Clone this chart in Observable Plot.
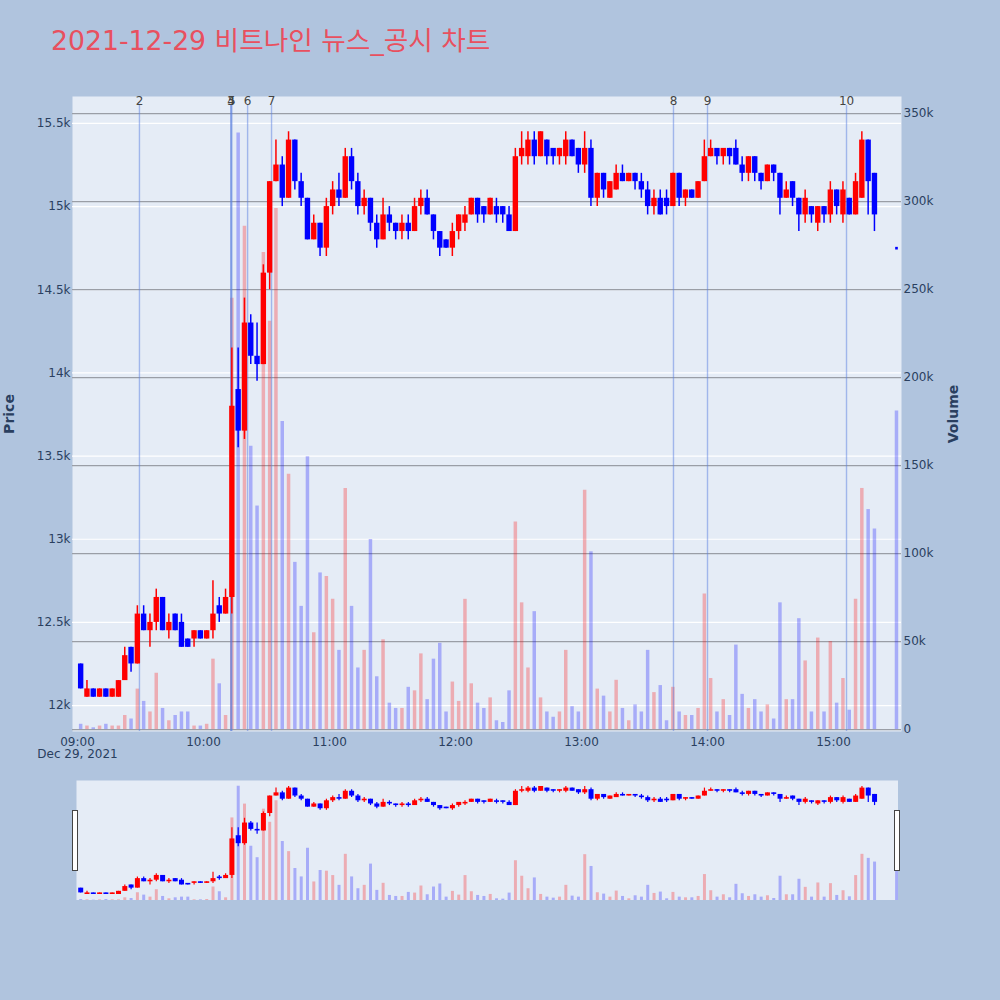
<!DOCTYPE html>
<html>
<head>
<meta charset="utf-8">
<script src="https://cdn.jsdelivr.net/npm/d3@7"></script>
<script src="https://cdn.jsdelivr.net/npm/@observablehq/plot@0.6"></script>
<style>
  body { margin: 0; background: #b0c4de; }
  #chart { position: relative; width: 1000px; height: 1000px; background: #b0c4de; overflow: hidden;
           font-family: "DejaVu Sans", Verdana, sans-serif; }
  #chart .layer { position: absolute; left: 0; top: 0; }
  #slider { position: absolute; left: 76px; top: 780px; width: 822px; height: 120px; }
  #slider .layer { position: absolute; left: 0; top: 0; }
  .handle { position: absolute; width: 4px; height: 59px; top: 810px; background: #fff; border: 1px solid #444; }
</style>
</head>
<body>
<div id="chart"><div id="slider"></div></div>
<script>
// 3분 단위 봉 (시작 시각)
const barTimes = [
  "09:00","09:03","09:06","09:09","09:12","09:15","09:18","09:21","09:24","09:27",
  "09:30","09:33","09:36","09:39","09:42","09:45","09:48","09:51","09:54","09:57",
  "10:00","10:03","10:06","10:09","10:12","10:15","10:18","10:21","10:24","10:27",
  "10:30","10:33","10:36","10:39","10:42","10:45","10:48","10:51","10:54","10:57",
  "11:00","11:03","11:06","11:09","11:12","11:15","11:18","11:21","11:24","11:27",
  "11:30","11:33","11:36","11:39","11:42","11:45","11:48","11:51","11:54","11:57",
  "12:00","12:03","12:06","12:09","12:12","12:15","12:18","12:21","12:24","12:27",
  "12:30","12:33","12:36","12:39","12:42","12:45","12:48","12:51","12:54","12:57",
  "13:00","13:03","13:06","13:09","13:12","13:15","13:18","13:21","13:24","13:27",
  "13:30","13:33","13:36","13:39","13:42","13:45","13:48","13:51","13:54","13:57",
  "14:00","14:03","14:06","14:09","14:12","14:15","14:18","14:21","14:24","14:27",
  "14:30","14:33","14:36","14:39","14:42","14:45","14:48","14:51","14:54","14:57",
  "15:00","15:03","15:06","15:09","15:12","15:15","15:18"
];
const opens = [
  12250,12050,12100,12050,12100,12050,12050,12150,12350,12250,
  12550,12450,12500,12650,12450,12550,12500,12400,12400,12450,
  12400,12450,12600,12550,12650,13900,13650,14300,14100,14050,
  14600,15150,15250,15050,15400,15150,15050,14800,14900,14750,
  15000,15100,15050,15300,15150,15000,15050,14900,14800,14950,
  14900,14850,14900,14850,15000,15050,14950,14850,14800,14750,
  14850,14900,14950,15050,15000,14950,15000,15000,14950,14850,
  15300,15300,15400,15300,15400,15350,15300,15300,15400,15350,
  15250,15350,15050,15200,15050,15100,15200,15150,15200,15150,
  15100,15000,15050,15050,15000,15200,15050,15100,15050,15150,
  15300,15350,15300,15350,15350,15250,15200,15300,15200,15150,
  15250,15200,15050,15150,15050,14950,15000,14900,15000,14950,
  15100,14950,15050,14950,15050,15400,15200
];
const closes = [
  12100,12100,12050,12100,12050,12100,12150,12300,12250,12550,
  12450,12500,12650,12450,12500,12450,12350,12350,12450,12400,
  12450,12550,12550,12650,13800,13650,14300,14100,14050,14600,
  15150,15250,15050,15400,15150,15050,14800,14900,14750,15000,
  15100,15050,15300,15150,15000,15050,14900,14800,14950,14900,
  14850,14900,14850,15000,15050,14950,14850,14750,14750,14850,
  14950,14950,15050,14950,14950,15050,14950,14950,14850,15300,
  15350,15400,15300,15450,15300,15300,15350,15400,15300,15250,
  15350,15050,15200,15100,15150,15200,15150,15200,15150,15100,
  15000,15050,14950,15000,15200,15050,15100,15050,15150,15300,
  15350,15300,15350,15300,15250,15200,15300,15200,15150,15250,
  15200,15050,15100,15050,14950,15050,14950,15000,14950,15100,
  15000,15100,14950,15150,15400,15150,14950
];
const highs = [
  12250,12150,12100,12100,12100,12100,12150,12350,12350,12600,
  12600,12550,12700,12650,12550,12550,12550,12400,12450,12450,
  12450,12750,12650,12700,14150,14150,14450,14350,14300,14650,
  15150,15400,15300,15450,15400,15200,15050,14950,14900,15050,
  15150,15200,15350,15350,15200,15100,15050,14950,15050,15000,
  14900,14950,14950,15050,15100,15100,14950,14850,14800,14900,
  14950,15000,15050,15050,15000,15050,15050,15000,15000,15350,
  15450,15450,15450,15450,15400,15350,15350,15450,15400,15350,
  15450,15400,15200,15200,15150,15250,15250,15200,15200,15200,
  15150,15100,15100,15100,15200,15200,15100,15100,15150,15400,
  15400,15350,15350,15350,15400,15300,15300,15300,15200,15250,
  15250,15200,15150,15150,15050,15100,15000,15000,15000,15150,
  15100,15150,15050,15200,15450,15400,15200
];
const lows = [
  12100,12050,12050,12050,12050,12050,12050,12150,12200,12250,
  12450,12350,12450,12450,12400,12450,12350,12350,12350,12400,
  12400,12400,12500,12550,12550,13550,13600,14050,13950,14050,
  14500,15150,15000,15050,15100,15000,14800,14800,14700,14700,
  14950,15000,15050,15100,14950,14950,14850,14750,14800,14850,
  14800,14800,14800,14850,14950,14950,14800,14700,14750,14700,
  14800,14850,14950,14900,14900,14950,14900,14900,14850,14850,
  15250,15250,15250,15300,15250,15250,15250,15250,15300,15200,
  15200,15000,15000,15050,15050,15100,15150,15150,15100,15050,
  14950,14950,14950,14950,15000,15000,15000,15050,15050,15150,
  15300,15250,15250,15250,15250,15150,15150,15150,15100,15150,
  15150,14950,15050,15000,14850,14900,14900,14850,14900,14900,
  14950,14900,14950,14950,15050,14950,14850
];
const volumes = [
  3000,2000,1000,2000,3000,2000,2000,8000,6000,23000,
  16000,10000,32000,12000,5000,8000,10000,10000,2000,2000,
  3000,40000,26000,8000,245000,339000,286000,161000,127000,271000,
  232000,296000,175000,145000,95000,70000,155000,55000,89000,87000,
  74000,45000,137000,70000,35000,45000,108000,30000,51000,15000,
  12000,12000,24000,22000,43000,17000,40000,49000,10000,27000,
  16000,74000,26000,15000,12000,18000,5000,4000,22000,118000,
  72000,35000,67000,18000,10000,7000,10000,45000,13000,10000,
  136000,101000,23000,19000,10000,28000,12000,5000,14000,10000,
  45000,21000,25000,5000,24000,10000,8000,8000,12000,77000,
  29000,10000,17000,8000,48000,20000,12000,17000,10000,14000,
  6000,72000,17000,17000,63000,39000,10000,52000,10000,50000,
  15000,29000,11000,74000,137000,125000,114000
];
// 종가 단일가 (15:30)
const closeTime = "15:30";
const closePrice = 14750;
const closeVolume = 181000;

// 뉴스/공시 번호와 시각
const newsLabels = ["2", "3", "4", "5", "6", "7", "8", "9", "10"];
const newsTimes = ["09:29:30", "10:13:00", "10:13:10", "10:13:30", "10:21:00", "10:32:24", "13:43:48", "14:00:00", "15:06:12"];

const priceTicks = [12000, 12500, 13000, 13500, 14000, 14500, 15000, 15500];
const volumeTicks = [0, 50000, 100000, 150000, 200000, 250000, 300000, 350000];
const hourTicks = ["09:00", "10:00", "11:00", "12:00", "13:00", "14:00", "15:00"];

const titleText = "2021-12-29 비트나인 뉴스_공시 차트";

const day = s => new Date(`2021-12-29T${s.length === 5 ? s + ":00" : s}Z`);
const RED = "#ff0000", BLUE = "#0000ff";

let bars = barTimes.map((s, i) => ({
  t: new Date(+day(s) + 90e3), o: opens[i], h: highs[i], l: lows[i], c: closes[i], v: volumes[i]
}));
bars.push({t: day(closeTime), o: closePrice, h: closePrice, l: closePrice, c: closePrice, v: closeVolume});
bars.forEach(d => d.col = d.c > d.o ? RED : BLUE);
const dojis = bars.filter(d => d.c === d.o);
const news = newsTimes.map((s, i) => ({t: day(s), label: newsLabels[i]}));
const hours = hourTicks.map(day);

const font = "'DejaVu Sans', Verdana, sans-serif";
const common = {
  width: 1000, height: 770,
  marginTop: 96, marginBottom: 39, marginLeft: 72, marginRight: 99,
  style: {background: "transparent", fontFamily: font, fontSize: "12px", color: "#2a3f5f", overflow: "visible"},
  color: {type: "identity"}
};
const xDomain = [day("08:57:37"), day("15:32:23")];
const priceDomain = [11844, 15662];

// 바닥: 배경, 가격 격자, 축
let base = Plot.plot({
  ...common,
  x: {type: "utc", domain: xDomain, label: null},
  y: {domain: priceDomain, label: null},
  marks: [
    Plot.frame({fill: "#e5ecf6", stroke: "none"}),
    Plot.gridY(priceTicks, {stroke: "#ffffff", strokeOpacity: 1, strokeWidth: 1.2}),
    Plot.axisY(priceTicks, {anchor: "left", tickSize: 0, tickPadding: 2, tickFormat: d3.format("~s"), label: null}),
    Plot.axisX(hours, {anchor: "bottom", tickSize: 0, tickPadding: 6, label: null,
      tickFormat: d => +d === +hours[0] ? "09:00\nDec 29, 2021" : d3.utcFormat("%H:%M")(d)})
  ]
});

// 거래량
let vol = Plot.plot({
  ...common,
  x: {type: "utc", domain: xDomain, axis: null},
  y: {domain: [-1100, 359700], label: null},
  marks: [
    Plot.gridY(volumeTicks, {stroke: "#9a9ea6", strokeOpacity: 1, strokeWidth: 1.3}),
    Plot.ruleX(bars, {x: "t", y1: 0, y2: "v", stroke: "col", strokeOpacity: 0.27, strokeWidth: 3.5}),
    Plot.axisY(volumeTicks, {anchor: "right", tickSize: 0, tickPadding: 2, tickFormat: d3.format("~s"), label: null})
  ]
});

// 캔들과 뉴스 선
let candles = Plot.plot({
  ...common,
  x: {type: "utc", domain: xDomain, axis: null},
  y: {domain: priceDomain, axis: null},
  marks: [
    Plot.ruleX(news, {x: "t", stroke: "#5b7fe0", strokeOpacity: 0.5, strokeWidth: 1.4, insetTop: 9}),
    Plot.text(news, {x: "t", text: "label", frameAnchor: "top", fill: "#444", fontSize: 12}),
    Plot.ruleX(bars, {x: "t", y1: "l", y2: "h", stroke: "col", strokeWidth: 1.5}),
    Plot.ruleX(bars, {x: "t", y1: "o", y2: "c", stroke: "col", strokeWidth: 5.4}),
    Plot.dot(dojis, {x: "t", y: "c", symbol: "square", r: 1.5, fill: "col", stroke: "none"})
  ]
});

let chart = d3.select("#chart");
for (let p of [base, vol, candles]) {
  p.classList.add("layer");
  chart.node().insertBefore(p, document.getElementById("slider"));
}

// 범위 슬라이더
const sliderCommon = {
  width: 822, height: 120, margin: 0,
  style: {background: "transparent", overflow: "hidden"},
  color: {type: "identity"},
  x: {type: "utc", domain: [day("08:59:30"), day("15:30:54")], axis: null}
};
let sVol = Plot.plot({
  ...sliderCommon,
  y: {domain: [0, 356000], axis: null},
  marks: [
    Plot.frame({fill: "#e5ecf6", stroke: "none"}),
    Plot.ruleX(bars, {x: "t", y1: 0, y2: "v", stroke: "col", strokeOpacity: 0.27, strokeWidth: 3})
  ]
});
let sPrice = Plot.plot({
  ...sliderCommon,
  y: {domain: [11861, 15639], axis: null},
  marks: [
    Plot.ruleX(bars, {x: "t", y1: "l", y2: "h", stroke: "col", strokeWidth: 1.2}),
    Plot.ruleX(bars, {x: "t", y1: "o", y2: "c", stroke: "col", strokeWidth: 5})
  ]
});
for (let p of [sVol, sPrice]) {
  p.classList.add("layer");
  d3.select("#slider").append(() => p);
}
chart.append("div").attr("class", "handle").style("left", "72px");
chart.append("div").attr("class", "handle").style("left", "894px");

// 제목과 축 제목
let over = chart.append("svg").attr("class", "layer").attr("width", 1000).attr("height", 1000)
  .style("pointer-events", "none");
over.append("text").attr("x", 51).attr("y", 50)
  .attr("font-family", "'DejaVu Sans', 'Noto Sans CJK KR', sans-serif").attr("font-size", 26.7)
  .attr("fill", "#e8505f").text(titleText);
over.append("text").attr("transform", "translate(14,414) rotate(-90)").attr("text-anchor", "middle")
  .attr("font-family", font).attr("font-size", 14).attr("font-weight", "bold").attr("fill", "#2a3f5f")
  .text("Price");
over.append("text").attr("transform", "translate(958,414) rotate(-90)").attr("text-anchor", "middle")
  .attr("font-family", font).attr("font-size", 14).attr("font-weight", "bold").attr("fill", "#2a3f5f")
  .text("Volume");
</script>
</body>
</html>
